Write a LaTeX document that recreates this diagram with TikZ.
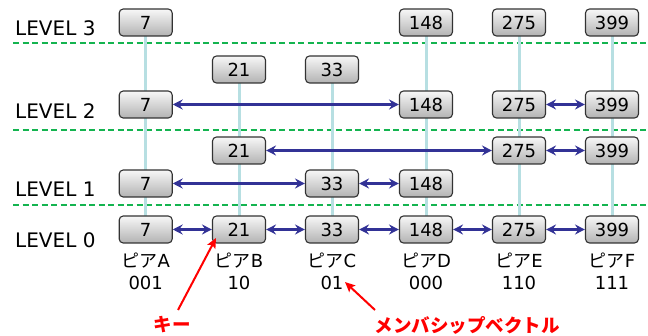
\documentclass[tikz,border=0pt]{standalone}
\usepackage{fontspec}
\setmainfont{DejaVu Sans}
\newfontfamily\jpfont{Noto Sans CJK JP}
\usetikzlibrary{arrows.meta,backgrounds}
\definecolor{linkblue}{RGB}{50,50,150}
\definecolor{towerc}{RGB}{183,223,226}
\definecolor{sepgreen}{RGB}{20,180,80}
\begin{document}
\begin{tikzpicture}[x=1pt,y=-1pt,
  box/.style={draw=black!80, line width=1.1pt, rounded corners=4pt, top color=gray!6, bottom color=gray!60,
    minimum width=53pt, minimum height=27pt, inner sep=0pt, font=\fontsize{18}{18}\selectfont},
  link/.style={draw=linkblue, line width=3pt, {Stealth[length=10pt,width=10pt,inset=3.5pt]}-{Stealth[length=10pt,width=10pt,inset=3.5pt]}},
  tower/.style={draw=towerc, line width=3pt},
  levellabel/.style={anchor=west, font=\fontsize{20}{20}\selectfont, inner sep=0pt},
  sepline/.style={draw=sepgreen, line width=2pt, dash pattern=on 6pt off 3.5pt},
  peer/.style={font=\fontsize{18}{18}\selectfont, inner sep=0pt},
  note/.style={text=red, inner sep=0pt, font=\jpfont\bfseries\fontsize{18.5}{18.5}\selectfont},
  redarrow/.style={draw=red, line width=2pt, -{Stealth[length=10pt,width=9pt,inset=2pt]}}
]
\useasboundingbox (0,0) rectangle (648,336);
% columns
\def\xa{145.7}\def\xb{239}\def\xc{332}\def\xd{426}\def\xe{519}\def\xf{612}
% level labels
\node[levellabel] (lv3) at (15,28) {LEVEL 3};
\node[levellabel] (lv2) at (15,111) {LEVEL 2};
\node[levellabel] (lv1) at (15,189) {LEVEL 1};
\node[levellabel] (lv0) at (15,240) {LEVEL 0};
% level 3
\node[box] (a3) at (\xa,22.5) {7};
\node[box] (d3) at (\xd,22.5) {148};
\node[box] (e3) at (\xe,22.5) {275};
\node[box] (f3) at (\xf,22.5) {399};
% level 2
\node[box] (b2u) at (\xb,69.5) {21};
\node[box] (c2u) at (\xc,69.5) {33};
\node[box] (a2) at (\xa,104.5) {7};
\node[box] (d2) at (\xd,104.5) {148};
\node[box] (e2) at (\xe,104.5) {275};
\node[box] (f2) at (\xf,104.5) {399};
% level 1
\node[box] (b1) at (\xb,150.5) {21};
\node[box] (e1) at (\xe,150.5) {275};
\node[box] (f1) at (\xf,150.5) {399};
\node[box] (a1) at (\xa,183.5) {7};
\node[box] (c1) at (\xc,183.5) {33};
\node[box] (d1) at (\xd,183.5) {148};
% level 0
\node[box] (a0) at (\xa,229.5) {7};
\node[box] (b0) at (\xb,229.5) {21};
\node[box] (c0) at (\xc,229.5) {33};
\node[box] (d0) at (\xd,229.5) {148};
\node[box] (e0) at (\xe,229.5) {275};
\node[box] (f0) at (\xf,229.5) {399};
% separators and towers behind boxes
\coordinate (s3l) at (13,43); \coordinate (s3r) at (648,43);
\coordinate (s2l) at (13,130);  \coordinate (s2r) at (648,130);
\coordinate (s1l) at (13,205);  \coordinate (s1r) at (648,205);
\begin{pgfonlayer}{background}
\draw[sepline] (s3l) -- (s3r);
\draw[sepline] (s2l) -- (s2r);
\draw[sepline] (s1l) -- (s1r);
\draw[tower] (a3.center) -- (a0.center);
\draw[tower] (b2u.center) -- (b0.center);
\draw[tower] (c2u.center) -- (c0.center);
\draw[tower] (d3.center) -- (d0.center);
\draw[tower] (e3.center) -- (e0.center);
\draw[tower] (f3.center) -- (f0.center);
\end{pgfonlayer}
% links
\draw[link] (a2) -- (d2);
\draw[link] (e2) -- (f2);
\draw[link] (b1) -- (e1);
\draw[link] (e1) -- (f1);
\draw[link] (a1) -- (c1);
\draw[link] (c1) -- (d1);
\draw[link] (a0) -- (b0);
\draw[link] (b0) -- (c0);
\draw[link] (c0) -- (d0);
\draw[link] (d0) -- (e0);
\draw[link] (e0) -- (f0);
% peers
\node[peer] (pa) at (\xa,261) {{\jpfont ピア}A};
\node[peer] (pb) at (\xb,261) {{\jpfont ピア}B};
\node[peer] (pc) at (\xc,261) {{\jpfont ピア}C};
\node[peer] (pd) at (\xd,261) {{\jpfont ピア}D};
\node[peer] (pe) at (\xe,261) {{\jpfont ピア}E};
\node[peer] (pf) at (\xf,261) {{\jpfont ピア}F};
\node[peer] (va) at (\xa,283) {001};
\node[peer] (vb) at (\xb,283) {10};
\node[peer] (vc) at (\xc,283) {01};
\node[peer] (vd) at (\xd,283) {000};
\node[peer] (ve) at (\xe,283) {110};
\node[peer] (vf) at (\xf,283) {111};
% notes
\node[note] (key) at (172,325) {キー};
\node[note] (mv) at (467,325) {メンバシップベクトル};
\coordinate (kstart) at (178,310);
\coordinate (kend) at (216,238);
\coordinate (mstart) at (375,310);
\coordinate (mend) at (345,282);
\draw[redarrow] (kstart) -- (kend);
\draw[redarrow] (mstart) -- (mend);
\end{tikzpicture}
\end{document}
